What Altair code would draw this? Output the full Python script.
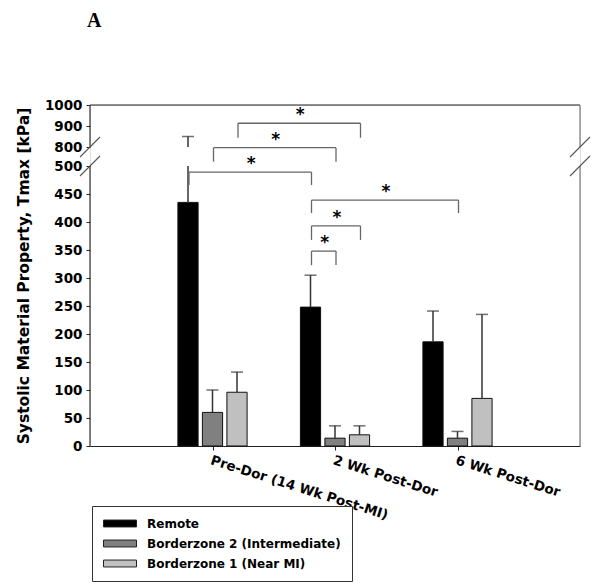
import json
import altair as alt
import pandas as pd

# ---------------- data ----------------
categories = ["Pre-Dor (14 Wk Post-MI)", "2 Wk Post-Dor", "6 Wk Post-Dor"]
series = ["Remote", "Borderzone 2 (Intermediate)", "Borderzone 1 (Near MI)"]
series_colors = ["#000000", "#808080", "#c0c0c0"]

remote_mean = [435, 248, 186]
remote_sd = [415, 57, 55]
bz2_mean = [60, 14, 14]
bz2_sd = [40, 22, 12]
bz1_mean = [96, 20, 85]
bz1_sd = [36, 16, 150]

y_tick_values = [0, 50, 100, 150, 200, 250, 300, 350, 400, 450, 500, 800, 900, 1000]
axis_break = [500, 800]   # lower segment ends at 500, upper segment starts at 800
y_top = 1000

# significance brackets: (category index, series index) -> (category index, series index)
sig_from = [(0, 2), (0, 1), (0, 0), (1, 0), (1, 0), (1, 0)]
sig_to = [(1, 2), (1, 1), (1, 0), (2, 1), (1, 2), (1, 1)]
sig_height = [913, 789, 489, 439, 393, 348]
sig_leg = [844, 568, 466, 416, 368, 323]
sig_label = ["*", "*", "*", "*", "*", "*"]

# ---------------- layout ----------------
W, H = 490, 341
BAR_STEP = 0.2
BAR_HALF = 0.0825
x_domain = [0, len(categories) + 1]
y_domain = [0, axis_break[0], axis_break[1], y_top]
y_range = [H, 61, 42, 0]

FONT = "DejaVu Sans"


def bar_pos(ci, si):
    return ci + 1 + (si - 1) * BAR_STEP


means = [remote_mean, bz2_mean, bz1_mean]
sds = [remote_sd, bz2_sd, bz1_sd]

rows = []
for ci, cat in enumerate(categories):
    for si, name in enumerate(series):
        p = bar_pos(ci, si)
        rows.append(dict(category=cat, series=name, mean=means[si][ci],
                         upper=means[si][ci] + sds[si][ci], base=0,
                         pos=p, x0=p - BAR_HALF, x1=p + BAR_HALF))
bars_df = pd.DataFrame(rows)

stems = []
for r in rows:
    if r["upper"] > axis_break[1]:
        stems.append(dict(pos=r["pos"], y=r["mean"], y2=axis_break[0]))
        stems.append(dict(pos=r["pos"], y=axis_break[1], y2=r["upper"]))
    else:
        stems.append(dict(pos=r["pos"], y=r["mean"], y2=r["upper"]))
stems_df = pd.DataFrame(stems)

seg = []
stars = []
for a, b, h, leg, lab in zip(sig_from, sig_to, sig_height, sig_leg, sig_label):
    xa = bar_pos(*a)
    xb = bar_pos(*b)
    seg.append(dict(x=xa, x2=xb, y=h, y2=h))
    seg.append(dict(x=xa, x2=xa, y=h, y2=leg))
    seg.append(dict(x=xb, x2=xb, y=h, y2=leg))
    stars.append(dict(x=(xa + xb) / 2, y=h, t=lab))
seg_df = pd.DataFrame(seg)
stars_df = pd.DataFrame(stars)

frame_df = pd.DataFrame([
    dict(x=x_domain[0], x2=x_domain[1], y=y_top, y2=y_top, c="#222222"),
    dict(x=x_domain[0], x2=x_domain[0], y=0, y2=axis_break[0], c="#333333"),
    dict(x=x_domain[0], x2=x_domain[0], y=axis_break[1], y2=y_top, c="#333333"),
    dict(x=x_domain[1], x2=x_domain[1], y=0, y2=axis_break[0], c="#7a7a7a"),
    dict(x=x_domain[1], x2=x_domain[1], y=axis_break[1], y2=y_top, c="#7a7a7a"),
])
slash_df = pd.DataFrame([dict(x=x, y=y) for x in x_domain for y in axis_break])

# ---------------- scales & guides ----------------
xs = alt.Scale(domain=x_domain, nice=False, zero=False)
ys = alt.Scale(domain=y_domain, range=y_range, nice=False, zero=False)

label_expr = "%s[datum.value]" % json.dumps([""] + categories + [""])

x_axis = alt.Axis(values=[1, 2, 3], labelExpr=label_expr, labelAngle=17.5,
                  labelAlign="left", labelBaseline="top", labelFontSize=13.5,
                  labelFontWeight="bold", labelColor="black", labelFont=FONT,
                  tickSize=4, tickColor="#222222", domainColor="#222222",
                  labelPadding=3, title=None, grid=False, labelFlush=False,
                  labelOverlap=False, labelBound=False, labelLimit=400)
y_axis = alt.Axis(values=y_tick_values, format="d", domain=False, grid=False, tickSize=4,
                  tickColor="#222222", labelFontSize=13.5, labelFontWeight="bold",
                  labelColor="black", labelFont=FONT, labelPadding=4,
                  labelOverlap=False, labelFlush=False,
                  title="Systolic Material Property, Tmax [kPa]",
                  titleFontSize=15.5, titleFontWeight="bold", titleFont=FONT,
                  titleColor="black", titleX=-67, titleY=H / 2, titleAngle=270,
                  titleAlign="center", titleBaseline="middle")

legend = alt.Legend(orient="none", legendX=2, legendY=401, title=None,
                    strokeColor="#333333", padding=11, fillColor="white",
                    symbolType="M-1,-0.21H1V0.21H-1Z", symbolSize=1089,
                    symbolStrokeColor="#222222", symbolStrokeWidth=1,
                    labelFontSize=12, labelFontWeight="bold", labelColor="black",
                    labelFont=FONT, rowPadding=7, clipHeight=13, labelOffset=10,
                    labelLimit=400)


def X(field):
    return alt.X(field, scale=xs, axis=x_axis)


def Y(field):
    return alt.Y(field, scale=ys, axis=y_axis)


bars = alt.Chart(bars_df).mark_bar(stroke="#111111", strokeWidth=1).encode(
    x=X("x0:Q"),
    x2="x1:Q",
    y=Y("mean:Q"),
    y2="base:Q",
    color=alt.Color("series:N", scale=alt.Scale(domain=series, range=series_colors),
                    legend=legend, sort=series),
)

stem_layer = alt.Chart(stems_df).mark_rule(color="#333333", strokeWidth=1.5).encode(
    x=X("pos:Q"),
    y=Y("y:Q"),
    y2="y2:Q",
)

caps = alt.Chart(bars_df).mark_tick(orient="horizontal", size=12, thickness=1.5,
                                    color="#333333").encode(
    x=X("pos:Q"),
    y=Y("upper:Q"),
)

brackets = alt.Chart(seg_df).mark_rule(color="#666666", strokeWidth=1.3,
                                       xOffset=1, x2Offset=1).encode(
    x=X("x:Q"),
    x2="x2:Q",
    y=Y("y:Q"),
    y2="y2:Q",
)

star_layer = alt.Chart(stars_df).mark_text(fontSize=17, fontWeight="bold",
                                           font=FONT, baseline="alphabetic",
                                           dy=-3, dx=2, color="black").encode(
    x=X("x:Q"),
    y=Y("y:Q"),
    text="t:N",
)

frame = alt.Chart(frame_df).mark_rule(strokeWidth=1.2).encode(
    x=X("x:Q"),
    x2="x2:Q",
    y=Y("y:Q"),
    y2="y2:Q",
    stroke=alt.Stroke("c:N", scale=None),
)

slashes = alt.Chart(slash_df).mark_rule(color="#555555", strokeWidth=1.1,
                                        xOffset=-10, x2Offset=10,
                                        yOffset=10, y2Offset=-10).encode(
    x=X("x:Q"),
    x2="x:Q",
    y=Y("y:Q"),
    y2="y:Q",
)

chart = alt.layer(bars, stem_layer, caps, brackets, star_layer, frame, slashes).properties(
    width=W, height=H,
    padding={"left": 82, "top": 97, "right": 12, "bottom": 142},
    autosize=alt.AutoSizeParams(type="none"),
    title=alt.TitleParams("A", font="Liberation Serif", fontSize=20, fontWeight="bold",
                          anchor="start", frame="group", dx=-3, offset=51,
                          baseline="alphabetic", color="black"),
).configure_view(strokeWidth=0).configure(font=FONT)

chart.save("out.html", embed_options={"renderer": "svg", "actions": False})
